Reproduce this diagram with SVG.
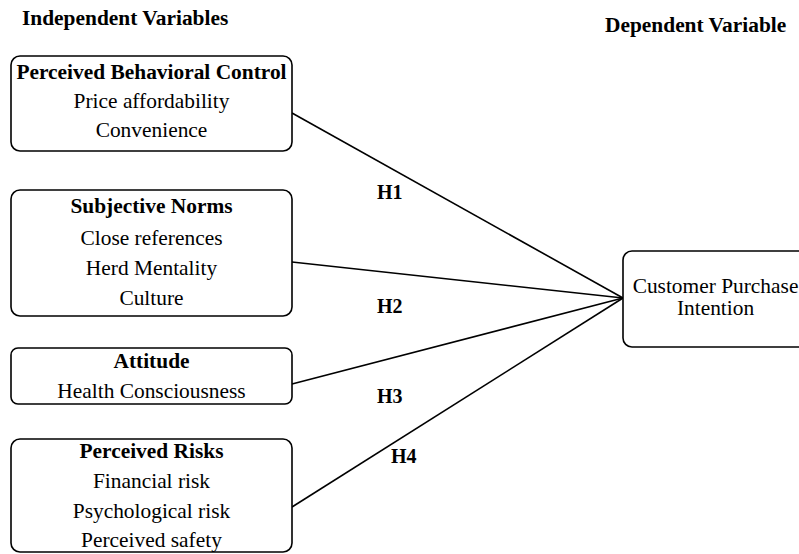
<svg xmlns="http://www.w3.org/2000/svg" width="799" height="554" viewBox="0 0 799 554">
<style>
text{font-family:"Liberation Serif","Times New Roman",serif;font-size:21.4px;fill:#000}
.b{font-weight:bold}
.c{text-anchor:middle}
.h{font-size:20px}
.box{fill:#fff;stroke:#000;stroke-width:1.6}
.ln{stroke:#000;stroke-width:1.6;fill:none}
</style>
<rect width="799" height="554" fill="#fff"/>
<text class="b" x="22" y="25">Independent Variables</text>
<text class="b" x="605" y="32">Dependent Variable</text>
<g id="connectors">
<line class="ln" x1="292" y1="113" x2="623" y2="298"/>
<line class="ln" x1="292" y1="262" x2="623" y2="298"/>
<line class="ln" x1="292" y1="384" x2="623" y2="298"/>
<line class="ln" x1="292" y1="507" x2="623" y2="298"/>
<text class="b h" x="377" y="199">H1</text>
<text class="b h" x="377" y="313">H2</text>
<text class="b h" x="377" y="403">H3</text>
<text class="b h" x="391" y="463">H4</text>
</g>
<g id="pbc">
<rect class="box" x="11" y="56" width="281" height="95" rx="9"/>
<text class="b c" x="151.5" y="79">Perceived Behavioral Control</text>
<text class="c" x="151.5" y="108">Price affordability</text>
<text class="c" x="151.5" y="137">Convenience</text>
</g>
<g id="sn">
<rect class="box" x="11" y="190" width="281" height="126" rx="9"/>
<text class="b c" x="151.5" y="213">Subjective Norms</text>
<text class="c" x="151.5" y="245">Close references</text>
<text class="c" x="151.5" y="275">Herd Mentality</text>
<text class="c" x="151.5" y="305">Culture</text>
</g>
<g id="att">
<rect class="box" x="11" y="348" width="281" height="56" rx="7"/>
<text class="b c" x="151.5" y="368">Attitude</text>
<text class="c" x="151.5" y="398">Health Consciousness</text>
</g>
<g id="pr">
<rect class="box" x="11" y="439" width="281" height="113" rx="9"/>
<text class="b c" x="151.5" y="458">Perceived Risks</text>
<text class="c" x="151.5" y="488">Financial risk</text>
<text class="c" x="151.5" y="518">Psychological risk</text>
<text class="c" x="151.5" y="547">Perceived safety</text>
</g>
<g id="cpi">
<rect class="box" x="623" y="251" width="190" height="96" rx="9"/>
<text class="c" x="715.5" y="293">Customer Purchase</text>
<text class="c" x="715.5" y="315">Intention</text>
</g>
</svg>
